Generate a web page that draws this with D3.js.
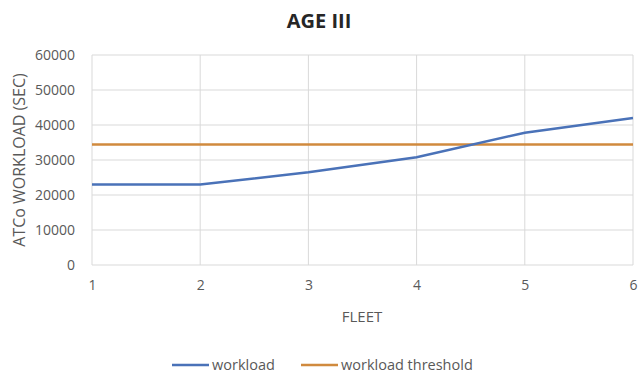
<!DOCTYPE html>
<html>
<head>
<meta charset="utf-8">
<script src="https://cdn.jsdelivr.net/npm/d3@7"></script>
<style>
  body { margin: 0; background: #fff; }
  svg { font-family: "Open Sans", "Liberation Sans", sans-serif; }
</style>
</head>
<body>
<div id="container"></div>
<script>
// chart data
let fleet = [1, 2, 3, 4, 5, 6];
let workload = [23000, 23000, 26500, 30800, 37800, 42000];
let threshold = 34400;
let yTicks = [0, 10000, 20000, 30000, 40000, 50000, 60000];
let seriesNames = ["workload", "workload threshold"];

let w = 638;
let h = 376;
let plotLeft = 92, plotRight = 633, plotTop = 55, plotBottom = 265;

let viz = d3.select("#container")
  .append("svg")
    .attr("width", w)
    .attr("height", h)
;

let xScale = d3.scaleLinear().domain([1, 6]).range([plotLeft, plotRight]);
let yScale = d3.scaleLinear().domain([0, 60000]).range([plotBottom, plotTop]);

// gridlines
viz.append("g")
  .selectAll("line.hgrid")
  .data(yTicks)
  .enter()
  .append("line")
    .attr("x1", plotLeft)
    .attr("x2", plotRight)
    .attr("y1", d => yScale(d))
    .attr("y2", d => yScale(d))
    .attr("stroke", "#d9d9d9")
    .attr("stroke-width", 1)
;

viz.append("g")
  .selectAll("line.vgrid")
  .data(fleet)
  .enter()
  .append("line")
    .attr("x1", d => xScale(d))
    .attr("x2", d => xScale(d))
    .attr("y1", plotTop)
    .attr("y2", plotBottom)
    .attr("stroke", "#d9d9d9")
    .attr("stroke-width", 1)
;

// axes (labels only)
let yAxis = d3.axisLeft(yScale).tickValues(yTicks).tickSize(0).tickPadding(17).tickFormat(d3.format("d"));
let yAxisGroup = viz.append("g").attr("transform", "translate(" + plotLeft + ",0)").call(yAxis);
yAxisGroup.select(".domain").remove();
yAxisGroup.selectAll("text").attr("fill", "#595959").attr("font-size", "14px")
  .style("font-family", "'Open Sans', sans-serif");

let xAxis = d3.axisBottom(xScale).tickValues(fleet).tickSize(0).tickPadding(15).tickFormat(d3.format("d"));
let xAxisGroup = viz.append("g").attr("transform", "translate(0," + plotBottom + ")").call(xAxis);
xAxisGroup.select(".domain").remove();
xAxisGroup.selectAll("text").attr("fill", "#595959").attr("font-size", "14px")
  .style("font-family", "'Open Sans', sans-serif");

// threshold line
viz.append("line")
  .attr("x1", xScale(fleet[0]))
  .attr("x2", xScale(fleet[fleet.length - 1]))
  .attr("y1", yScale(threshold))
  .attr("y2", yScale(threshold))
  .attr("stroke", "#d08a3e")
  .attr("stroke-width", 2.5)
;

// workload line
let line = d3.line()
  .x((d, i) => xScale(fleet[i]))
  .y(d => yScale(d));

viz.append("path")
  .datum(workload)
  .attr("d", line)
  .attr("fill", "none")
  .attr("stroke", "#4a72b8")
  .attr("stroke-width", 2.5)
;

// title
viz.append("text")
  .text("AGE III")
  .attr("x", 319)
  .attr("y", 28)
  .attr("text-anchor", "middle")
  .attr("font-size", "20px")
  .attr("font-weight", "bold")
  .attr("fill", "#262626")
;

// axis titles
viz.append("text")
  .text("FLEET")
  .attr("x", 362)
  .attr("y", 322)
  .attr("text-anchor", "middle")
  .attr("font-size", "15px")
  .attr("fill", "#595959")
;

viz.append("text")
  .text("ATCo WORKLOAD (SEC)")
  .attr("transform", "translate(25," + 160 + ") rotate(-90)")
  .attr("text-anchor", "middle")
  .attr("font-size", "16px")
  .attr("fill", "#595959")
;

// legend
let legendColors = ["#4a72b8", "#d08a3e"];
let legendX = [172, 301];
seriesNames.forEach(function(name, i){
  viz.append("line")
    .attr("x1", legendX[i])
    .attr("x2", legendX[i] + 37)
    .attr("y1", 365)
    .attr("y2", 365)
    .attr("stroke", legendColors[i])
    .attr("stroke-width", 2.5);
  viz.append("text")
    .text(name)
    .attr("x", legendX[i] + 40)
    .attr("y", 370)
    .attr("font-size", "14.5px")
    .attr("fill", "#595959");
});
</script>
</body>
</html>
